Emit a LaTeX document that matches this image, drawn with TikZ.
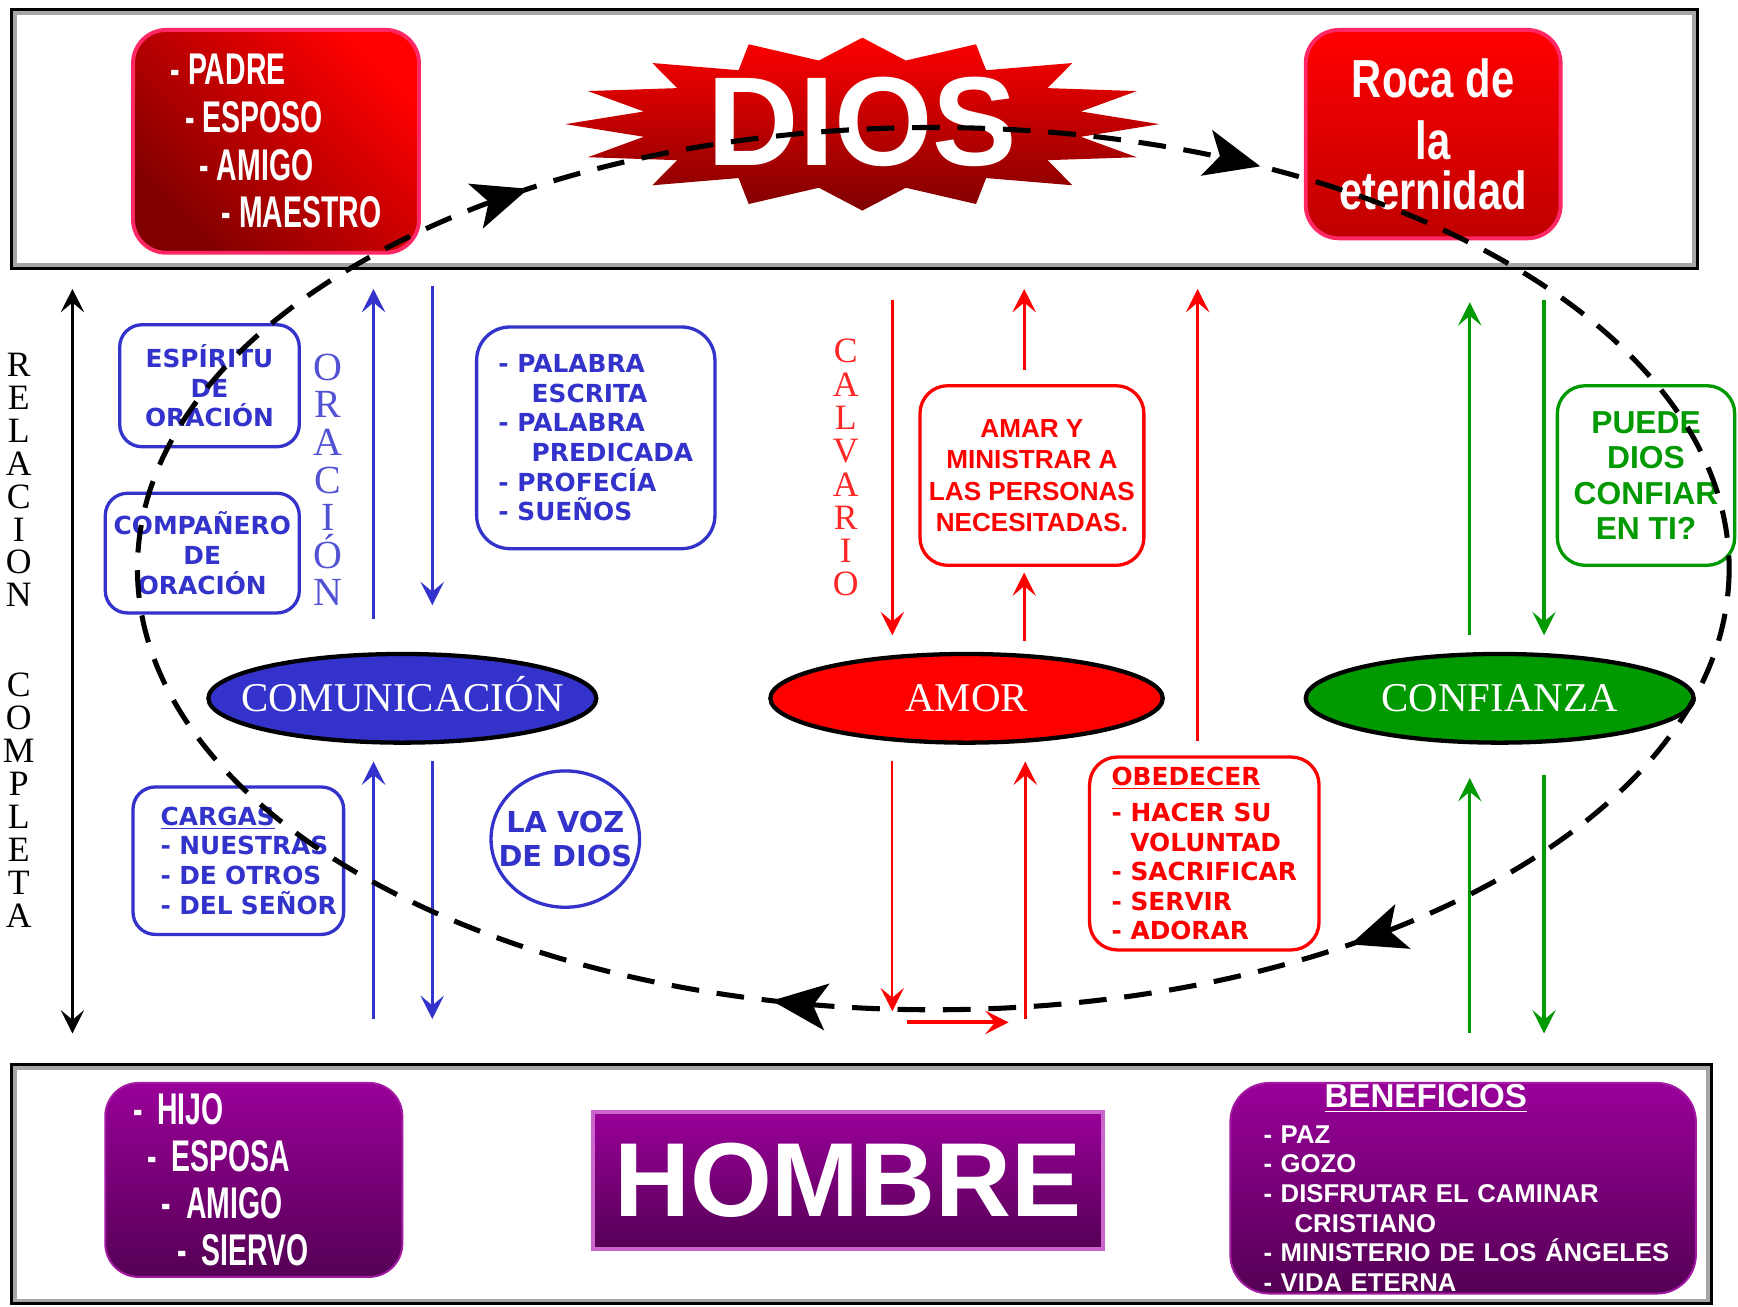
\documentclass[tikz,border=0pt]{standalone}
\usepackage{fontspec}
\setmainfont{Liberation Serif}
\newfontfamily\arial{Liberation Sans}
\newfontfamily\gruesa{DejaVu Sans}
\newfontfamily\angosta[FakeStretch=0.64]{Liberation Sans}
\newfontfamily\angostaroca[FakeStretch=0.78]{Liberation Sans}
\usepackage{xcolor}
\usepackage{tikz}
\usetikzlibrary{shapes,arrows.meta,positioning,calc,decorations.markings}

\definecolor{azul}{RGB}{51,51,204}
\definecolor{rojo}{RGB}{255,0,0}
\definecolor{rojooscuro}{RGB}{128,0,0}
\definecolor{rosa}{RGB}{255,40,100}
\definecolor{verde}{RGB}{0,153,0}
\definecolor{morado}{RGB}{153,0,153}
\definecolor{moradooscuro}{RGB}{85,0,85}
\definecolor{lila}{RGB}{204,102,204}

\begin{document}
\begin{tikzpicture}[
        x=0.2mm, y=-0.2mm,
        punta/.tip={Stealth[length=12pt,width=12pt,inset=5pt]},
        gran/.tip={Stealth[length=10mm,width=8.5mm,inset=2.5mm]},
        marco/.style={rectangle, draw=black, line width=3pt, inner sep=0pt},
        cajaroja/.style={rectangle, rounded corners=6mm, draw=rosa, line width=2pt, top color=rojo, bottom color=rojooscuro, shading angle=-45, text=white, inner sep=0pt},
        cajamorada/.style={rectangle, rounded corners=6mm, draw=morado!90!white, line width=1pt, top color=morado, bottom color=moradooscuro, text=white, inner sep=0pt},
        caja/.style={rectangle, rounded corners=4mm, draw, line width=1.7pt, fill=white, inner sep=0pt, align=center, font=\gruesa\bfseries\fontsize{12.75}{15.2}\selectfont},
        ovalo/.style={ellipse, draw=black, line width=2.2pt, minimum width=70mm, minimum height=16mm, inner xsep=-5mm, inner ysep=0pt, text=white, text height=13.8pt, text depth=0pt, font=\fontsize{21}{21}\selectfont},
        vertical/.style={align=center, inner sep=0pt},
        flecha/.style={-punta, line width=1.6pt},
        doble/.style={punta-punta, line width=1.4pt},
        circuito/.style={draw=black, line width=2.6pt, dash pattern=on 5mm off 3.2mm, postaction={decorate}, decoration={markings, mark=at position 0.1431 with {\arrow[solid, line width=1pt]{gran}}, mark=at position 0.2908 with {\arrow[solid, line width=1pt]{gran}}, mark=at position 0.6463 with {\arrow[solid, line width=1pt]{gran}}, mark=at position 0.8332 with {\arrow[solid, line width=1pt]{gran}}}}
    ]

        \useasboundingbox (0,0) rectangle (1568,1179);

        % Marcos
        \node [marco, minimum width=303.6mm, minimum height=46.2mm] (cielo) at (771,125.5) {};
        \node [marco, minimum width=306.2mm, minimum height=42.6mm] (tierra) at (777.5,1068.5) {};
        \foreach \m in {cielo,tierra}
            \draw [gray!70, line width=2pt] ([shift={(2.5pt,2.5pt)}]\m.south west) rectangle ([shift={(-2.5pt,-2.5pt)}]\m.north east);

        % Dios
        \shade [top color=rojo, bottom color=rojooscuro] plot [samples at={0,...,31}] ({778+268*(0.875+0.125*cos(180*\x))*cos(11.25*\x)}, {112+78*(0.875+0.125*cos(180*\x))*sin(11.25*\x)}) -- cycle;
        \node [font=\arial\bfseries\fontsize{65}{65}\selectfont, text=white, inner sep=0pt] (dios) at (778,110) {DIOS};

        % Padre
        \node [cajaroja, minimum width=51.6mm, minimum height=40.2mm, align=left, font=\angosta\bfseries\fontsize{22.8}{24.5}\selectfont] (padre) at (249,127.5) {- PADRE\\\hspace*{2.6mm}- ESPOSO\\\hspace*{5.2mm}- AMIGO\\\hspace*{9.2mm}- MAESTRO};

        % Roca
        \node [cajaroja, bottom color=rojo!75!black, minimum width=46mm, minimum height=37.6mm, align=center, font=\angostaroca\bfseries\fontsize{27.5}{25.6}\selectfont] (roca) at (1293,121) {Roca de\\[6.3pt]la\\eternidad};

        % Comunicacion
        \node [caja, draw=azul, text=azul, minimum width=32.4mm, minimum height=22mm] (espiritu) at (189,348) {ESPÍRITU\\DE\\ORACIÓN};
        \node [caja, draw=azul, text=azul, minimum width=35mm, minimum height=21.6mm, below=7.8mm of espiritu, xshift=-1.3mm] (companero) {COMPAÑERO\\DE\\ORACIÓN};
        \node [vertical, text=azul!85, font=\fontsize{20.5}{19.3}\selectfont] (oracion) at (296,433) {O\\R\\A\\C\\I\\Ó\\N};
        \node [caja, draw=azul, text=azul, rounded corners=6mm, minimum width=43mm, minimum height=40mm, align=left] (palabra) at (537.5,395) {- PALABRA\\\hspace*{6mm}ESCRITA\\- PALABRA\\\hspace*{6mm}PREDICADA\\- PROFECÍA\\- SUEÑOS};
        \node [ovalo, fill=azul] (comunic) at (363,630) {COMUNICACIÓN};
        \node [caja, draw=azul, text=azul, minimum width=38mm, minimum height=26.6mm, text width=28mm, align=left] (cargas) at (215,776.5) {\underline{CARGAS}\\\mbox{- NUESTRAS}\\\mbox{- DE OTROS}\\\mbox{- DEL SEÑOR}};
        \node [caja, ellipse, draw=azul, text=azul, minimum width=26.8mm, minimum height=24.6mm, inner xsep=-2.6mm, font=\gruesa\bfseries\fontsize{14.8}{17.6}\selectfont] (voz) at (510,757) {LA VOZ\\DE DIOS};

        % Amor
        \node [vertical, text=rojo!85, font=\fontsize{18.3}{17.1}\selectfont] (calvario) at (763,422) {C\\A\\L\\V\\A\\R\\I\\O};
        \node [caja, draw=rojo, text=rojo, rounded corners=5mm, minimum width=40.4mm, minimum height=32.4mm, font=\arial\bfseries\fontsize{13.4}{16.2}\selectfont] (amar) at (931,429) {AMAR Y\\MINISTRAR A\\LAS PERSONAS\\NECESITADAS.};
        \node [ovalo, fill=rojo, minimum width=70.8mm] (amor) at (872,630) {AMOR};
        \node [caja, draw=rojo, text=rojo, rounded corners=5mm, minimum width=41.4mm, minimum height=34.8mm, align=left] (obedecer) at (1086.5,770) {\underline{OBEDECER}\\[1.2mm]- HACER SU\\\hspace*{3.4mm}VOLUNTAD\\- SACRIFICAR\\- SERVIR\\- ADORAR};

        % Confianza
        \node [caja, draw=verde, text=verde, rounded corners=5mm, minimum width=32mm, minimum height=32.4mm, font=\arial\bfseries\fontsize{16.3}{18.2}\selectfont] (puede) at (1485,429) {PUEDE\\DIOS\\CONFIAR\\EN TI?};
        \node [ovalo, fill=verde] (confianza) at (1353,630) {CONFIANZA};

        % Relacion completa
        \node [vertical, font=\fontsize{18.3}{16.9}\selectfont] (relacion) at (17,433) {R\\E\\L\\A\\C\\I\\O\\N};
        \node [vertical, font=\fontsize{18.3}{16.9}\selectfont, below=11.8mm of relacion] (completa) {C\\O\\M\\P\\L\\E\\T\\A};

        % Hombre
        \node [cajamorada, minimum width=53.6mm, minimum height=35mm, text width=43.6mm, align=left, font=\angosta\bfseries\fontsize{22.8}{24.1}\selectfont] (hijo) at (229,1064.5) {- HIJO\\\hspace*{2.6mm}- ESPOSA\\\hspace*{5.2mm}- AMIGO\\\hspace*{8mm}- SIERVO};
        \node [rectangle, draw=lila, line width=2pt, top color=morado, bottom color=moradooscuro, minimum width=92mm, minimum height=24.8mm, text=white, font=\arial\bfseries\fontsize{54}{54}\selectfont] (hombre) at (765,1065) {HOMBRE};
        \node [cajamorada, rounded corners=7mm, minimum width=84mm, minimum height=38mm, text width=72mm, align=left, font=\arial\bfseries\fontsize{13.2}{15.25}\selectfont] (beneficios) at (1320,1072) {\hspace*{11mm}{\fontsize{17}{17}\selectfont\underline{BENEFICIOS}}\\[1mm]- PAZ\\- GOZO\\- DISFRUTAR EL CAMINAR\\\hspace*{5.6mm}CRISTIANO\\\mbox{- MINISTERIO DE LOS ÁNGELES}\\- VIDA ETERNA};

        % Flechas azules
        \draw [flecha, azul, shorten <=6mm, shorten >=3.4mm] ($(comunic.north)+(-26,0)$) -- ($(comunic.north |- cielo.south)+(-26,0)$);
        \draw [flecha, azul, shorten <=2.8mm, shorten >=8.4mm] ($(comunic.north |- cielo.south)+(27,0)$) -- ($(comunic.north)+(27,0)$);
        \draw [flecha, azul, shorten <=8mm, shorten >=3mm] ($(comunic.south |- tierra.north)+(-26,0)$) -- ($(comunic.south)+(-26,0)$);
        \draw [flecha, azul, shorten <=3mm, shorten >=8mm] ($(comunic.south)+(27,0)$) -- ($(comunic.south |- tierra.north)+(27,0)$);

        % Flechas rojas
        \draw [flecha, rojo, shorten <=5.4mm, shorten >=3mm] ($(amor.north |- cielo.south)+(-67,0)$) -- ($(amor.north)+(-67,0)$);
        \draw [flecha, rojo, shorten <=2.6mm, shorten >=3.4mm] ($(amar.north)+(-7,0)$) -- ($(amar.north |- cielo.south)+(-7,0)$);
        \draw [flecha, rojo, shorten <=2mm, shorten >=1mm] ($(amar.south |- amor.north)+(-7,0)$) -- ($(amar.south)+(-7,0)$);
        \draw [flecha, rojo, shorten <=2.6mm, shorten >=3.4mm] ($(obedecer.north)+(-6,0)$) -- ($(obedecer.north |- cielo.south)+(-6,0)$);
        \draw [flecha, rojo, line width=1pt, shorten <=3mm, shorten >=9.4mm] ($(amor.south)+(-67,0)$) -- ($(amor.south |- tierra.north)+(-67,0)$);
        \draw [flecha, rojo, shorten <=8mm, shorten >=3mm] ($(amor.south |- tierra.north)+(53,0)$) -- ($(amor.south)+(53,0)$);
        \draw [flecha, rojo, line width=2pt] ($(amor.south |- tierra.north)+(-54,-37)$) -- ($(amor.south |- tierra.north)+(38,-37)$);

        % Flechas verdes
        \draw [flecha, verde, shorten <=3mm, shorten >=5.8mm] ($(confianza.north)+(-27,0)$) -- ($(confianza.north |- cielo.south)+(-27,0)$);
        \draw [flecha, verde, shorten <=5.4mm, shorten >=3mm] ($(confianza.north |- cielo.south)+(40,0)$) -- ($(confianza.north)+(40,0)$);
        \draw [flecha, verde, shorten <=5.4mm, shorten >=6mm] ($(confianza.south |- tierra.north)+(-27,0)$) -- ($(confianza.south)+(-27,0)$);
        \draw [flecha, verde, shorten <=5.4mm, shorten >=5.4mm] ($(confianza.south)+(40,0)$) -- ($(confianza.south |- tierra.north)+(40,0)$);

        % Relacion completa
        \draw [doble, black, shorten <=5.4mm, shorten >=3.4mm] ($(cielo.south west |- tierra.north)+(56,0)$) -- ($(cielo.south west)+(56,0)$);

        % Circuito
        \coordinate (centro) at (842,513);
        \draw [circuito] (centro) ellipse [x radius=718, y radius=398];

    \end{tikzpicture}
\end{document}
